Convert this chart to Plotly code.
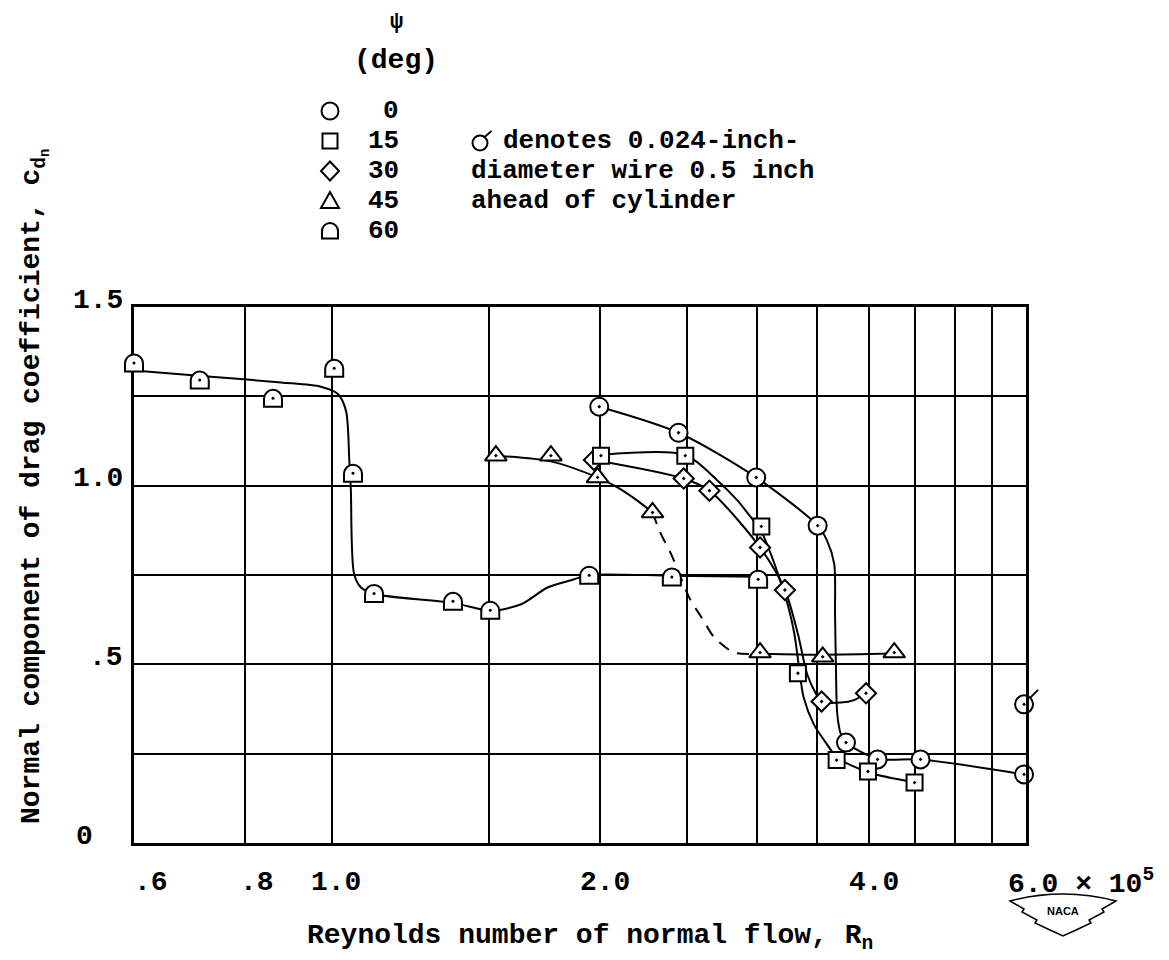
import numpy as np
import plotly.graph_objects as go

# Reynolds number of normal flow (x 10^5) and normal drag coefficient, per yaw angle psi
re_psi0 = [1.994, 2.447, 2.99, 3.504, 3.77, 4.09, 4.57, 5.97]
cd_psi0 = [1.221, 1.148, 1.023, 0.888, 0.281, 0.234, 0.234, 0.192]
re_psi0_wire = [5.97]
cd_psi0_wire = [0.388]

re_psi15 = [2.003, 2.49, 3.03, 3.33, 3.68, 3.99, 4.50]
cd_psi15 = [1.084, 1.084, 0.886, 0.475, 0.232, 0.200, 0.169]

re_psi30 = [1.967, 2.48, 2.65, 3.02, 3.22, 3.54, 3.97]
cd_psi30 = [1.072, 1.020, 0.986, 0.827, 0.708, 0.396, 0.419]

re_psi45 = [1.527, 1.76, 1.985, 2.288, 3.02, 3.55, 4.27]
cd_psi45 = [1.084, 1.084, 1.023, 0.925, 0.533, 0.521, 0.533]

re_psi60 = [0.6, 0.711, 0.859, 1.006, 1.056, 1.115, 1.367, 1.505, 1.943, 2.405, 3.005]
cd_psi60 = [1.342, 1.294, 1.243, 1.327, 1.033, 0.697, 0.675, 0.650, 0.748, 0.743, 0.737]

# Faired curves through each set of points
fair0_re = [1.994, 2.447, 2.99, 3.504, 3.59, 3.657, 3.665, 3.673, 3.686, 3.72, 3.77, 4.09, 4.57, 5.97]
fair0_cd = [1.221, 1.148, 1.023, 0.888, 0.846, 0.781, 0.641, 0.50, 0.361, 0.305, 0.281, 0.236, 0.234, 0.192]

fair15_re = [2.003, 2.49, 2.707, 2.85, 2.95, 3.03, 3.105, 3.19, 3.25, 3.30, 3.34, 3.38, 3.47, 3.59, 3.686, 3.99, 4.50]
fair15_cd = [1.086, 1.086, 1.014, 0.958, 0.911, 0.872, 0.809, 0.725, 0.659, 0.585, 0.491, 0.407, 0.332, 0.276, 0.239, 0.198, 0.170]

fair30_re = [1.967, 2.48, 2.65, 3.02, 3.22, 3.33, 3.41, 3.49, 3.54, 3.72, 3.85, 3.97]
fair30_cd = [1.072, 1.020, 0.986, 0.827, 0.708, 0.585, 0.473, 0.417, 0.396, 0.393, 0.400, 0.419]

fair45a_re = [1.527, 1.76, 1.985, 2.09, 2.20, 2.288]
fair45a_cd = [1.084, 1.068, 1.023, 0.995, 0.958, 0.925]
fair45b_re = [2.288, 2.338, 2.40, 2.515, 2.603, 2.684, 2.825, 3.02]
fair45b_cd = [0.925, 0.865, 0.809, 0.687, 0.627, 0.575, 0.533, 0.530]
fair45c_re = [3.02, 3.55, 4.27]
fair45c_cd = [0.530, 0.527, 0.530]

fair60_re = [0.6, 0.732, 0.877, 0.972, 1.015, 1.037, 1.046, 1.05, 1.059, 1.078, 1.115,
             1.367, 1.505, 1.63, 1.745, 1.869, 1.943, 2.405, 3.005]
fair60_cd = [1.322, 1.305, 1.289, 1.277, 1.257, 1.21, 1.07, 0.995, 0.753, 0.715, 0.697,
             0.672, 0.650, 0.668, 0.715, 0.738, 0.75, 0.748, 0.745]

# Axis ticks and grid
x_grid = [0.6, 0.8, 1.0, 1.5, 2.0, 2.5, 3.0, 3.5, 4.0, 4.5, 5.0, 5.5, 6.0]
x_tick_vals = [0.6, 0.8, 1.0, 2.0, 4.0]
x_tick_text = [".6", ".8", "1.0", "2.0", "4.0"]
x_tick_shift = [17, 12, 4, 5, 5]
y_grid = [0, 0.25, 0.5, 0.75, 1.0, 1.25, 1.5]
y_tick_vals = [1.5, 1.0, 0.5]
y_tick_text = ["1.5", "1.0", ".5"]

legend_angles = ["0", "15", "30", "45", "60"]
legend_symbols = ["circle", "square", "diamond", "triangle", "arch"]
note_lines = ["diameter wire 0.5 inch", "ahead of cylinder"]

# ---------------------------------------------------------------- layout geometry
W, H = 1169, 960
L, R, T, B = 134, 143, 307, 117
PW, PH = W - L - R, H - T - B
X_LO, X_HI = 0.6, 6.0
Y_HI = 1.5
FONT = "Liberation Mono, DejaVu Sans Mono, monospace"
INK = "black"


def px(xp):
    return (xp - L) / PW


def py(yp):
    return (H - B - yp) / PH


def xfrac(v):
    # fraction along the log x-axis
    return (np.log10(v) - np.log10(X_LO)) / (np.log10(X_HI) - np.log10(X_LO))


fig = go.Figure()

line_style = dict(color=INK, width=2, shape="spline", smoothing=0.8)
for xs, ys, dash in [(fair15_re, fair15_cd, "solid"), (fair30_re, fair30_cd, "solid"),
                     (fair45a_re, fair45a_cd, "solid"), (fair45b_re, fair45b_cd, "12px,9px"),
                     (fair45c_re, fair45c_cd, "solid"), (fair0_re, fair0_cd, "solid"),
                     (fair60_re, fair60_cd, "solid")]:
    fig.add_trace(go.Scatter(x=xs, y=ys, mode="lines", line=dict(dash=dash, **line_style),
                             cliponaxis=False, showlegend=False, hoverinfo="skip"))


def marker_trace(xs, ys, symbol, size):
    return go.Scatter(x=xs, y=ys, mode="markers", cliponaxis=False, showlegend=False,
                      marker=dict(symbol=symbol, size=size, color="white",
                                  line=dict(color=INK, width=2)))


fig.add_trace(marker_trace(re_psi0, cd_psi0, "circle-dot", 18))
fig.add_trace(marker_trace(re_psi0_wire, cd_psi0_wire, "circle-dot", 18))
fig.add_trace(marker_trace(re_psi45, cd_psi45, "triangle-up-dot", 19))
fig.add_trace(marker_trace(re_psi30, cd_psi30, "diamond-dot", 15.5))
fig.add_trace(marker_trace(re_psi15, cd_psi15, "square-dot", 16))

shapes = []
ARCH = "M-9,-8 L-9,0 C-9,5 -5,9 0,9 C5,9 9,5 9,0 L9,-8 Z"
for xv, yv in zip(re_psi60, cd_psi60):
    shapes.append(dict(type="path", xref="paper", yref="y", xsizemode="pixel", ysizemode="pixel",
                       xanchor=xfrac(xv), yanchor=yv, path=ARCH, fillcolor="white",
                       line=dict(color=INK, width=2), layer="above"))
    shapes.append(dict(type="circle", xref="paper", yref="y", xsizemode="pixel", ysizemode="pixel",
                       xanchor=xfrac(xv), yanchor=yv, x0=-1.5, x1=1.5, y0=-1.0, y1=2.0,
                       fillcolor=INK, line=dict(width=0), layer="above"))

# flag on the wire-tripped point
for xv, yv in zip(re_psi0_wire, cd_psi0_wire):
    shapes.append(dict(type="line", xref="paper", yref="y", xsizemode="pixel", ysizemode="pixel",
                       xanchor=xfrac(xv), yanchor=yv, x0=6.5, y0=7, x1=14, y1=14.5,
                       line=dict(color=INK, width=2), layer="above"))

# legend block
LEG_SIZE = 26
LEG_X, LEG_NUM_X = 330, 400
LEG_ROWS = [111, 141, 171, 201, 231]
open_paths = {
    "diamond": "M0,9.5 L9,0 L0,-9.5 L-9,0 Z",
    "triangle": "M-9,-7 L9,-7 L0,9 Z",
    "arch": "M-8,-7.5 L-8,0 C-8,4.4 -4.4,8 0,8 C4.4,8 8,4.4 8,0 L8,-7.5 Z",
}
for sym, row in zip(legend_symbols, LEG_ROWS):
    base = dict(xref="paper", yref="paper", xsizemode="pixel", ysizemode="pixel",
                xanchor=px(LEG_X), yanchor=py(row), line=dict(color=INK, width=2),
                fillcolor="rgba(0,0,0,0)")
    if sym == "circle":
        shapes.append(dict(type="circle", x0=-8.5, x1=8.5, y0=-8.5, y1=8.5, **base))
    elif sym == "square":
        shapes.append(dict(type="rect", x0=-7.5, x1=7.5, y0=-7.5, y1=7.5, **base))
    else:
        shapes.append(dict(type="path", path=open_paths[sym], **base))

NOTE_X = 470
# flagged-circle symbol opening the note
shapes.append(dict(type="circle", xref="paper", yref="paper", xsizemode="pixel", ysizemode="pixel",
                   xanchor=px(NOTE_X + 10), yanchor=py(LEG_ROWS[1] + 2), x0=-7.5, x1=7.5, y0=-7.5, y1=7.5,
                   line=dict(color=INK, width=2), fillcolor="rgba(0,0,0,0)"))
shapes.append(dict(type="line", xref="paper", yref="paper", xsizemode="pixel", ysizemode="pixel",
                   xanchor=px(NOTE_X + 10), yanchor=py(LEG_ROWS[1] + 2), x0=4, y0=5.5, x1=11.5, y1=12,
                   line=dict(color=INK, width=2)))

# NACA emblem
logo_pts = [(1010, 901), (1024, 909), (1022, 912), (1037, 920), (1035, 923), (1050, 930), (1063, 936),
            (1076, 930), (1091, 923), (1089, 920), (1104, 912), (1102, 909), (1116, 901)]
path = "M{:.4f},{:.4f}".format(px(logo_pts[0][0]), py(logo_pts[0][1]))
for a, b in logo_pts[1:]:
    path += " L{:.4f},{:.4f}".format(px(a), py(b))
path += " Q{:.4f},{:.4f} {:.4f},{:.4f} Z".format(px(1063), py(887), px(1010), py(901))
shapes.append(dict(type="path", xref="paper", yref="paper", path=path, fillcolor="white",
                   line=dict(color=INK, width=1.5)))

annotations = []


def text(x, y, s, size=28, xanchor="center", yanchor="middle", xref="paper", yref="paper",
         angle=0, xshift=0, family=FONT, weight="bold"):
    annotations.append(dict(x=x, y=y, xref=xref, yref=yref, text=s, showarrow=False,
                            xanchor=xanchor, yanchor=yanchor, textangle=angle, xshift=xshift,
                            borderpad=0,
                            font=dict(family=family, size=size, color=INK, weight=weight)))


for v, t, s in zip(x_tick_vals, x_tick_text, x_tick_shift):
    text(np.log10(v), py(882), t, xref="x", xshift=s)
text(np.log10(6.0), py(882), "6.0 × 10<sup>5</sup>", xref="x", xanchor="left", xshift=-19)

# y tick labels sit slightly above their grid lines
for v, t in zip(y_tick_vals, y_tick_text):
    text(px(124), v / Y_HI + 7 / PH, t, xanchor="right")
text(px(84), 7 / PH, "0")

text(px(590), py(937), "Reynolds number of normal flow, R<sub>n</sub>")
text(px(34), py(487), "Normal component of drag coefficient, c<sub>d<sub>n</sub></sub>", angle=-90)

text(px(396), py(22), "ψ", size=22)
text(px(396), py(60), "(deg)")
for a, row in zip(legend_angles, LEG_ROWS):
    text(px(LEG_NUM_X), py(row), a, xanchor="right", size=LEG_SIZE)

text(px(NOTE_X + 32), py(LEG_ROWS[1]), "denotes 0.024-inch-", xanchor="left", size=LEG_SIZE)
for s, row in zip(note_lines, LEG_ROWS[2:4]):
    text(px(NOTE_X), py(row), s, xanchor="left", size=LEG_SIZE)

text(px(1063), py(911), "NACA", size=11, family="Liberation Sans, Arial, sans-serif")

fig.update_layout(
    width=W, height=H,
    margin=dict(l=L, r=R, t=T, b=B, pad=0),
    paper_bgcolor="white", plot_bgcolor="white",
    showlegend=False,
    shapes=shapes, annotations=annotations,
    xaxis=dict(type="log", range=[np.log10(X_LO), np.log10(X_HI)], tickvals=x_grid,
               showticklabels=False, ticks="", showgrid=True, gridcolor=INK, gridwidth=2,
               showline=True, linecolor=INK, linewidth=2.5, mirror=True, zeroline=False),
    yaxis=dict(range=[0, Y_HI], tickvals=y_grid, showticklabels=False, ticks="",
               showgrid=True, gridcolor=INK, gridwidth=2,
               showline=True, linecolor=INK, linewidth=2.5, mirror=True, zeroline=False),
)

fig.write_html("out.html")
